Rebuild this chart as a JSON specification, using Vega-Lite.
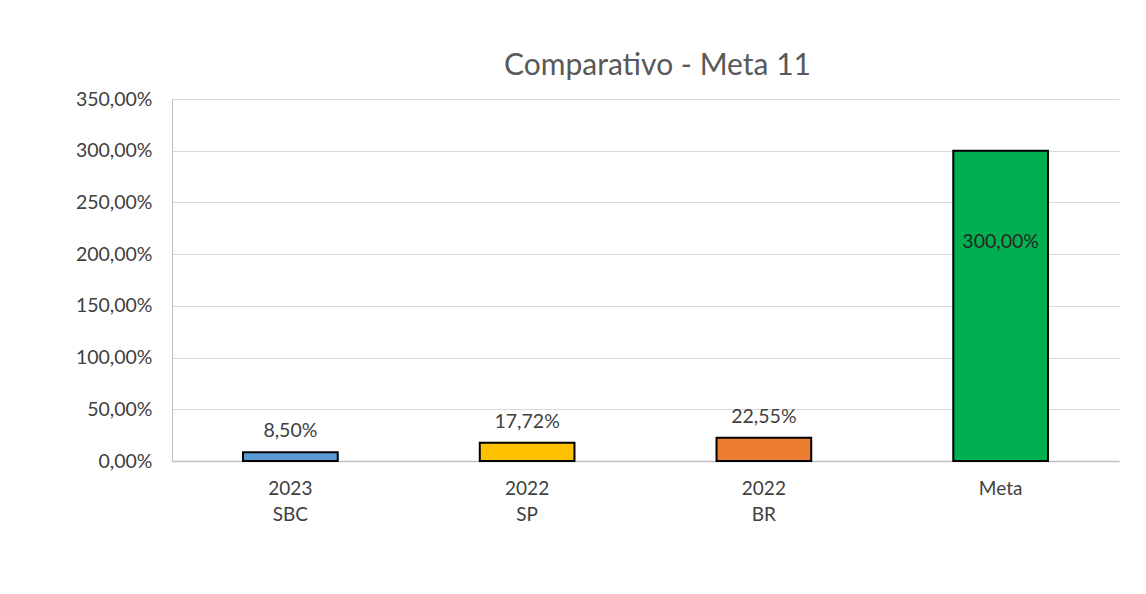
{
  "$schema": "https://vega.github.io/schema/vega-lite/v6.json",
  "width": 947,
  "height": 362,
  "autosize": {"type": "none"},
  "padding": {"left": 172, "top": 99, "right": 27, "bottom": 133},
  "background": "white",
  "title": {
    "text": "Comparativo - Meta 11",
    "font": "Lato",
    "fontSize": 30,
    "fontWeight": "normal",
    "color": "#595959",
    "offset": 8,
    "dx": 12,
    "anchor": "middle"
  },
  "config": {
    "locale": {"number": {"decimal": ",", "thousands": ".", "grouping": [3], "currency": ["R$", ""]}},
    "view": {"stroke": null},
    "font": "Lato"
  },
  "data": {
    "values": [
      {"cat": "2023|SBC", "valor": 0.085},
      {"cat": "2022|SP", "valor": 0.1772},
      {"cat": "2022|BR", "valor": 0.2255},
      {"cat": "Meta", "valor": 3.0}
    ]
  },
  "encoding": {
    "x": {
      "field": "cat",
      "type": "nominal",
      "sort": null,
      "scale": {"paddingInner": 0.6, "paddingOuter": 0.3},
      "axis": {
        "title": null,
        "labelAngle": 0,
        "labelExpr": "split(datum.label, '|')",
        "labelFont": "Lato",
        "labelFontSize": 19,
        "labelColor": "#404040",
        "labelLineHeight": 26,
        "labelPadding": 18,
        "ticks": false,
        "domainColor": "#bfbfbf",
        "domainWidth": 1.5
      }
    },
    "y": {
      "field": "valor",
      "type": "quantitative",
      "scale": {"domain": [0, 3.5], "nice": false},
      "axis": {
        "title": null,
        "values": [0, 0.5, 1, 1.5, 2, 2.5, 3, 3.5],
        "format": ".2%",
        "labelFont": "Lato",
        "labelFontSize": 19.5,
        "labelColor": "#404040",
        "labelPadding": 20,
        "ticks": false,
        "domainColor": "#bfbfbf",
        "domainWidth": 1,
        "gridColor": "#d9d9d9",
        "gridWidth": 1
      }
    }
  },
  "layer": [
    {
      "mark": {"type": "bar", "stroke": "black", "strokeWidth": 2},
      "encoding": {
        "color": {
          "field": "cat",
          "type": "nominal",
          "scale": {
            "domain": ["2023|SBC", "2022|SP", "2022|BR", "Meta"],
            "range": ["#5b9bd5", "#ffc000", "#ed7d31", "#00b050"]
          },
          "legend": null
        }
      }
    },
    {
      "transform": [{"filter": "datum.cat != 'Meta'"}],
      "mark": {"type": "text", "baseline": "bottom", "dy": -11, "font": "Lato", "fontSize": 19.5, "color": "#404040"},
      "encoding": {"text": {"field": "valor", "type": "quantitative", "format": ".2%"}}
    },
    {
      "transform": [{"filter": "datum.cat == 'Meta'"}],
      "mark": {"type": "text", "baseline": "middle", "dy": 91, "font": "Lato", "fontSize": 19.5, "color": "#262626"},
      "encoding": {"text": {"field": "valor", "type": "quantitative", "format": ".2%"}}
    }
  ]
}
